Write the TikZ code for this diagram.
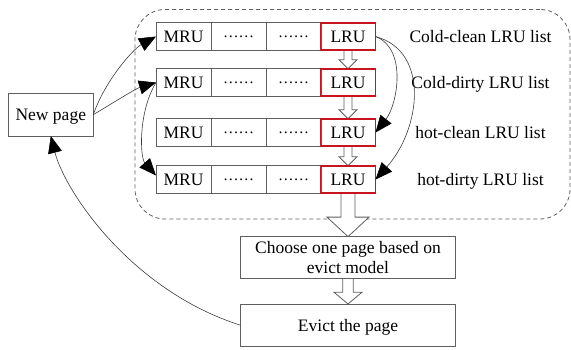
\documentclass[tikz,border=0pt]{standalone}
\usepackage{fontspec}
\setmainfont{Liberation Serif}
\usetikzlibrary{arrows.meta,calc}
\pgfdeclarelayer{back}
\pgfdeclarelayer{mid}
\pgfsetlayers{back,mid,main}
\definecolor{linegray}{RGB}{95,95,95}
\definecolor{curvegray}{RGB}{60,60,60}
\definecolor{lrured}{RGB}{200,20,30}
% hollow block arrow pointing down: from, to, half shaft, half head, head length
\newcommand\hollowarrow[5]{%
  \filldraw[hollow] let \p1=(#1), \p2=(#2) in
    (\x1-#3,\y1) -- (\x1-#3,\y2+#5) -- (\x1-#4,\y2+#5) -- (\x1,\y2)
    -- (\x1+#4,\y2+#5) -- (\x1+#3,\y2+#5) -- (\x1+#3,\y1);}
\begin{document}
\begin{tikzpicture}[x=1pt,y=-1pt,
  every node/.style={font=\fontsize{17.5}{20}\selectfont, inner sep=0pt, outer sep=0pt},
  cell/.style={draw=linegray, line width=0.9pt, minimum width=55pt, minimum height=27.5pt},
  lrucell/.style={cell, draw=lrured, line width=1.8pt},
  plainbox/.style={draw=linegray, line width=0.9pt},
  listlabel/.style={anchor=base},
  feed/.style={draw=curvegray, line width=0.6pt, -{Triangle[length=17pt,width=14pt,color=black]}},
  hollow/.style={draw=linegray, line width=0.8pt, fill=white},
  groupbox/.style={draw=linegray, dash pattern=on 4pt off 3pt, rounded corners=30pt, line width=0.8pt}
]
\useasboundingbox (0,0) rectangle (571,350);

% the four LRU lists
\foreach \r/\y in {1/36.5,2/82.5,3/132.5,4/179.5} {
  \node[cell] (m\r) at (183.5,\y) {MRU};
  \node[cell] (da\r) at (238.5,\y) {\fontsize{15.5}{18}\selectfont ……};
  \node[cell] (db\r) at (293.5,\y) {\fontsize{15.5}{18}\selectfont ……};
  \node[lrucell] (l\r) at (348,\y) {LRU};
}

\node[listlabel] (lab1) at (480.5,42.8) {Cold-clean LRU list};
\node[listlabel] (lab2) at (480.5,88.8) {Cold-dirty LRU list};
\node[listlabel] (lab3) at (480.5,138.8) {hot-clean LRU list};
\node[listlabel] (lab4) at (480.5,185.8) {hot-dirty LRU list};

\begin{pgfonlayer}{back}
  \node[groupbox, minimum width=435pt, minimum height=209.5pt] (lists) at (352.5,114.25) {};
\end{pgfonlayer}

\node[plainbox, minimum width=85pt, minimum height=42.7pt, text depth=0pt] (np) at (50.8,114.7) {New page};
\node[plainbox, minimum width=214.6pt, minimum height=42.3pt, align=center] (choose) at (348,257.8)
  {Choose one page based on\\evict model};
\node[plainbox, minimum width=214.6pt, minimum height=42.7pt, text depth=0pt] (evict) at (348,325.3) {Evict the page};

% block arrows
\begin{pgfonlayer}{mid}
  \hollowarrow{l1.south}{l2.north}{4pt}{9pt}{9pt}
  \hollowarrow{l2.south}{l3.north}{4pt}{9pt}{9pt}
  \hollowarrow{l3.south}{l4.north}{4pt}{9pt}{9pt}
  \hollowarrow{l4.south}{choose.north}{7pt}{21pt}{19.5pt}
  \hollowarrow{choose.south}{evict.north}{5.3pt}{14pt}{11.7pt}
\end{pgfonlayer}

% page movements
\draw[feed] (np.east) .. controls +(12,-35) and +(-22,12) .. (m1.west);
\draw[feed] (np.east) .. controls +(20,-12) and +(-20,6) .. (m2.west);
\draw[feed] (m2.west) .. controls +(-18,30) and +(-16,-18) .. ([yshift=4pt]m4.west);
\draw[feed] (l1.east) .. controls +(32,12) and +(22,-28) .. (l3.east);
\draw[feed] (l1.east) .. controls +(55,15) and +(45,-50) .. (l4.east);
\draw[feed] (evict.west) .. controls +(-110,-35) and +(14,55) .. (np.south);
\end{tikzpicture}
\end{document}
